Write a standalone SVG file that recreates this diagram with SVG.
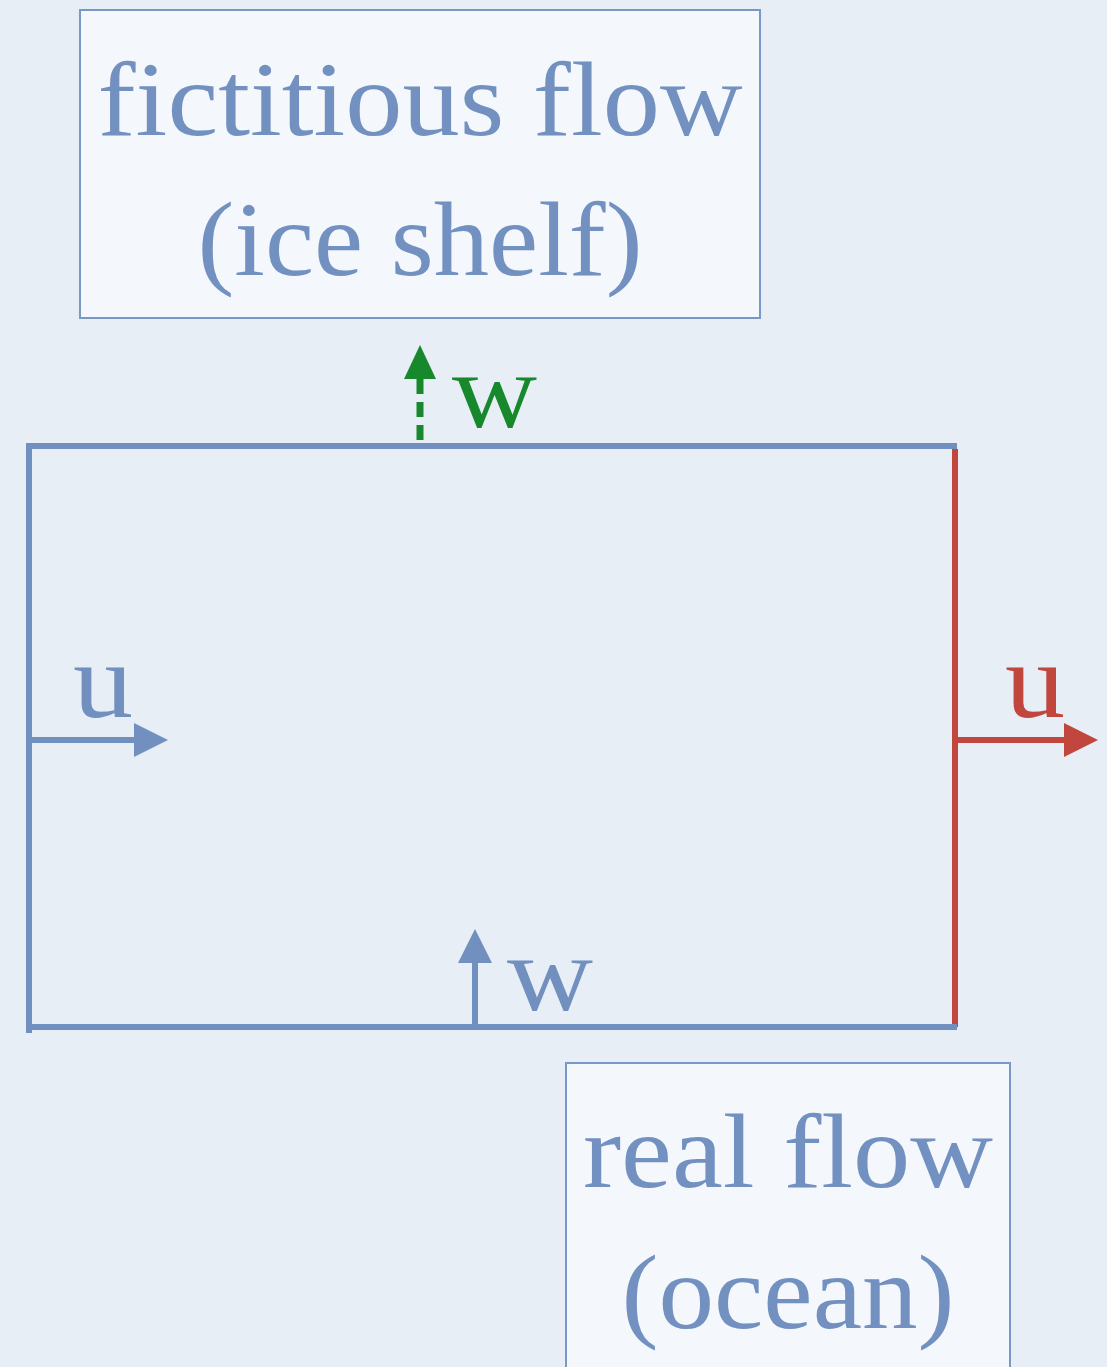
<svg xmlns="http://www.w3.org/2000/svg" width="1107" height="1367" viewBox="0 0 1107 1367">
<style>
.bg{fill:#e8eef5}
.box{fill:#f4f7fb;stroke:#7a98c6;stroke-width:2}
.t{font-family:"Liberation Serif","Times New Roman",serif;font-size:106px;fill:#7391c0;text-anchor:middle}
.lbl{font-family:"Liberation Serif","Times New Roman",serif;font-size:108px}
.blue{stroke:#7190c0;stroke-width:6;fill:none}
.red{stroke:#c1463d;stroke-width:6;fill:none}
.green{stroke:#17882b;stroke-width:7;fill:none;stroke-dasharray:15 8}
</style>
<defs>
<marker id="ab" markerUnits="userSpaceOnUse" viewBox="0 0 34 34" markerWidth="34" markerHeight="34" refX="1" refY="17" orient="auto"><path d="M0,0 L34,17 L0,34 z" fill="#7190c0"/></marker>
<marker id="ar" markerUnits="userSpaceOnUse" viewBox="0 0 34 34" markerWidth="34" markerHeight="34" refX="1" refY="17" orient="auto"><path d="M0,0 L34,17 L0,34 z" fill="#c1463d"/></marker>
<marker id="ag" markerUnits="userSpaceOnUse" viewBox="0 0 34 32" markerWidth="34" markerHeight="32" refX="1" refY="16" orient="auto"><path d="M0,0 L34,16 L0,32 z" fill="#17882b"/></marker>
</defs>
<rect class="bg" x="0" y="0" width="1107" height="1367"/>

<g id="ice-shelf">
<rect class="box" x="80" y="10" width="680" height="308"/>
<text class="t" x="420" y="135" textLength="645" lengthAdjust="spacingAndGlyphs">fictitious flow</text>
<text class="t" x="420" y="275" textLength="445" lengthAdjust="spacingAndGlyphs">(ice shelf)</text>
</g>

<g id="ocean">
<rect class="box" x="566" y="1063" width="444" height="320"/>
<text class="t" x="788" y="1187" textLength="410" lengthAdjust="spacingAndGlyphs">real flow</text>
<text class="t" x="788" y="1328" textLength="333" lengthAdjust="spacingAndGlyphs">(ocean)</text>
</g>

<g id="domain">
<line class="red" x1="955" y1="449" x2="955" y2="1027"/>
<polyline class="blue" points="957,446 29,446 29,1033"/>
<line class="blue" x1="29" y1="1027" x2="957" y2="1027"/>
</g>

<g id="connectors">
<line class="blue" x1="29" y1="740" x2="135" y2="740" marker-end="url(#ab)"/>
<line class="red" x1="955" y1="740" x2="1065" y2="740" marker-end="url(#ar)"/>
<line class="green" x1="420" y1="440" x2="420" y2="378" marker-end="url(#ag)"/>
<line class="blue" x1="475" y1="1027" x2="475" y2="962" marker-end="url(#ab)"/>
</g>

<g id="labels">
<text class="lbl" x="73" y="717" fill="#7190c0" textLength="60" lengthAdjust="spacingAndGlyphs">u</text>
<text class="lbl" x="1005" y="717" fill="#c1463d" textLength="60" lengthAdjust="spacingAndGlyphs">u</text>
<text class="lbl" x="452" y="427" fill="#17882b" textLength="85" lengthAdjust="spacingAndGlyphs">w</text>
<text class="lbl" x="507" y="1010" fill="#7190c0" textLength="86" lengthAdjust="spacingAndGlyphs">w</text>
</g>
</svg>
